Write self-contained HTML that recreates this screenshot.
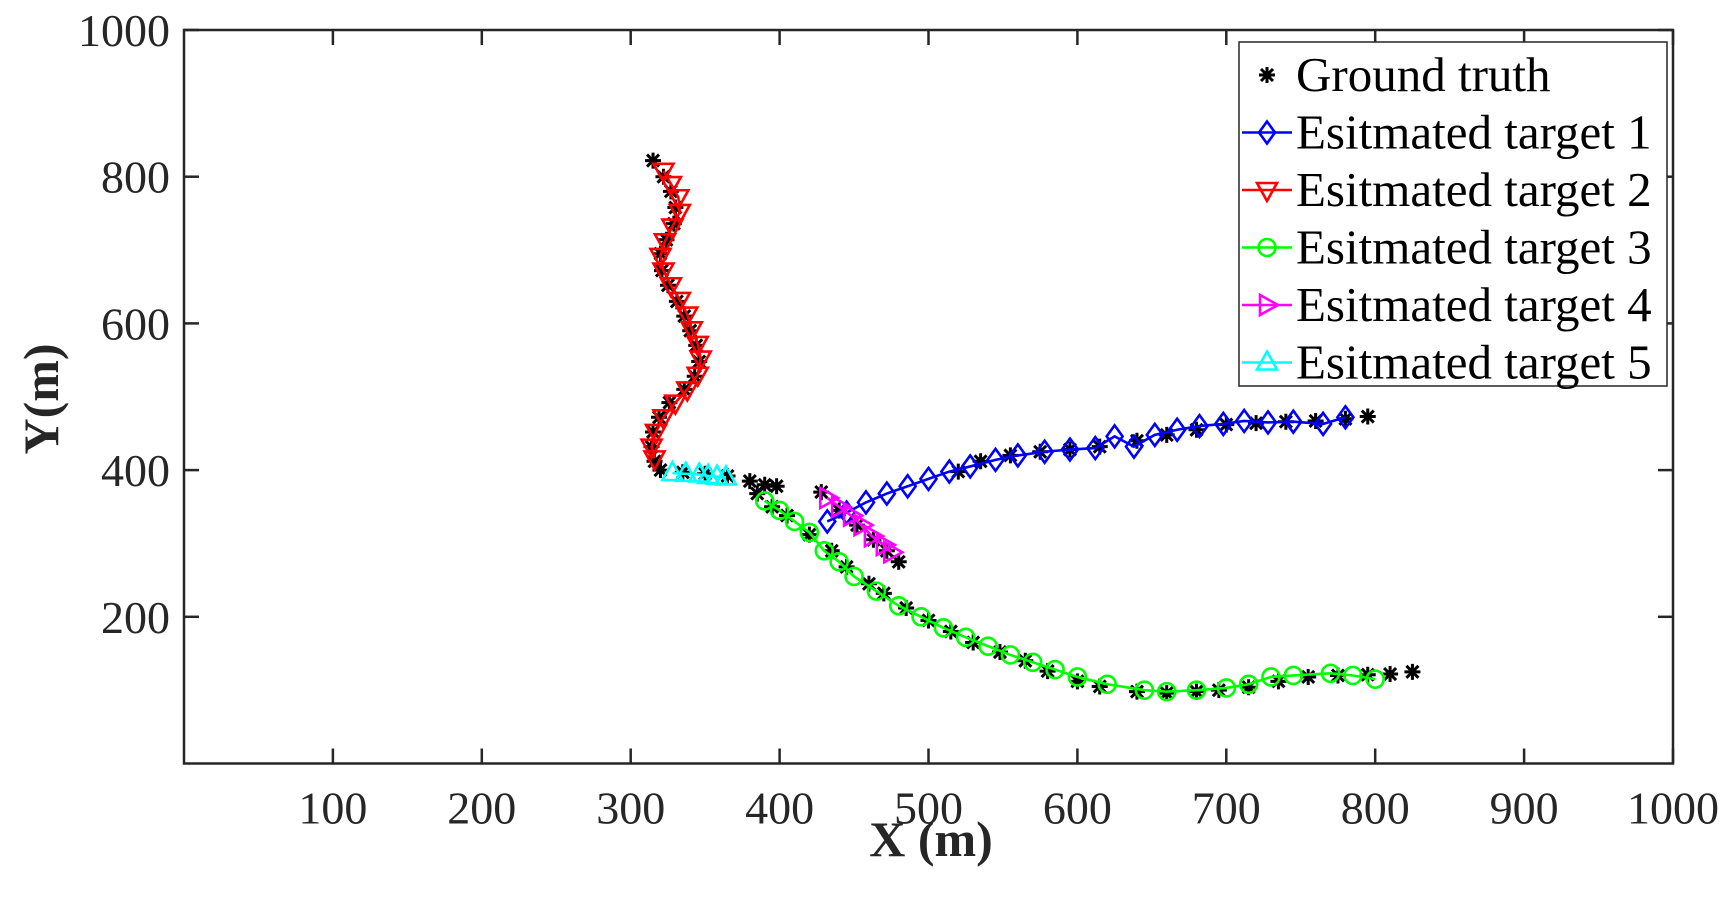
<!DOCTYPE html>
<html><head><meta charset="utf-8"><style>
html,body{margin:0;padding:0;background:#fff;}
svg{display:block;font-family:"Liberation Serif",serif;}
</style></head><body>
<svg id="chart" width="1730" height="909" viewBox="0 0 1730 909" xmlns="http://www.w3.org/2000/svg"></svg>
<script>
const xTicks=[100,200,300,400,500,600,700,800,900,1000];
const yTicks=[200,400,600,800,1000];
const gtX=[315,322,327,330,329,324,320,321,325,331,336,340,344,346,343,336,326,319,315,314,316,320,335,350,365,380,390,398,385,395,405,420,435,445,460,470,485,500,515,530,548,565,580,600,615,640,660,680,695,715,735,755,775,795,810,825,428,440,452,463,472,480,520,535,555,575,595,615,640,660,680,700,720,740,760,780,795];
const gtY=[822,800,780,758,736,714,695,672,652,630,610,590,570,548,528,510,492,472,452,432,412,400,397,395,392,385,380,378,368,350,338,312,290,268,245,232,212,195,180,165,152,140,126,112,105,98,96,98,100,104,112,118,120,121,122,125,370,345,325,305,290,275,398,412,420,425,428,432,440,448,455,462,464,466,467,470,473];
const t1X=[432,445,458,472,486,500,514,528,545,560,578,595,612,625,638,652,667,682,698,712,728,745,765,780];
const t1Y=[330,342,356,368,378,388,398,405,414,420,425,428,430,446,432,448,455,460,463,467,465,466,463,472];
const t2X=[322,327,332,333,328,323,320,322,327,333,338,341,345,347,345,338,330,322,317,314,316];
const t2Y=[808,790,772,752,732,712,692,672,652,632,612,592,572,552,530,510,492,472,452,432,416];
const t3X=[390,400,410,420,430,440,450,465,480,495,510,525,540,555,570,585,600,620,645,660,680,700,715,730,745,770,785,800];
const t3Y=[358,345,330,315,290,275,255,235,215,200,185,172,160,148,138,128,118,108,100,98,100,103,108,118,120,123,120,115];
const t4X=[432,440,448,455,462,470,475];
const t4Y=[362,350,338,325,310,298,288];
const t5X=[328,337,346,352,358,364];
const t5Y=[396,395,394,392,391,390];

const NS="http://www.w3.org/2000/svg";
const svg=document.getElementById('chart');
const L=184,R=1673,T=30,B=763.5;
const sx=v=>L+(v-0)/(1000-0)*(R-L);
const sy=v=>B-(v-0)/(1000-0)*(B-T);
function el(tag,attrs,parent){const e=document.createElementNS(NS,tag);for(const k in attrs)e.setAttribute(k,attrs[k]);(parent||svg).appendChild(e);return e;}

const box=el('rect',{x:L,y:T,width:R-L,height:B-T,fill:'none',stroke:'#262626','stroke-width':2.5});


xTicks.forEach(v=>{
  const x=sx(v);
  el('line',{x1:x,y1:B,x2:x,y2:B-15,stroke:'#262626','stroke-width':2.5});
  el('line',{x1:x,y1:T,x2:x,y2:T+15,stroke:'#262626','stroke-width':2.5});
  const t=el('text',{x:x,y:B+60,'text-anchor':'middle','font-size':46,fill:'#262626'});
  t.textContent=v;
  
  
});
yTicks.forEach(v=>{
  const y=sy(v);
  el('line',{x1:L,y1:y,x2:L+15,y2:y,stroke:'#262626','stroke-width':2.5});
  el('line',{x1:R,y1:y,x2:R-15,y2:y,stroke:'#262626','stroke-width':2.5});
  const t=el('text',{x:L-14,y:y+16,'text-anchor':'end','font-size':46,fill:'#262626'});
  t.textContent=v;
  
  
});
const xt=el('text',{x:931,y:856,'text-anchor':'middle','font-size':50,'font-weight':'bold',fill:'#262626'});
xt.textContent='X (m)';


const yt=el('text',{x:0,y:0,'text-anchor':'middle','font-size':50,'font-weight':'bold',fill:'#262626',transform:'translate(58,399) rotate(-90)'});
yt.textContent='Y(m)';



function marker(type,x,y,color,g){
  const s=8;
  if(type==='star'){
    const d=`M${x-s},${y}L${x+s},${y}M${x},${y-s}L${x},${y+s}M${x-6},${y-6}L${x+6},${y+6}M${x-6},${y+6}L${x+6},${y-6}`;
    el('path',{d:d,stroke:'#000','stroke-width':3,fill:'none'},g);
  }else if(type==='diamond'){
    el('path',{d:`M${x},${y-11}L${x+8},${y}L${x},${y+11}L${x-8},${y}Z`,stroke:color,'stroke-width':2.6,fill:'none'},g);
  }else if(type==='tdown'){
    el('path',{d:`M${x-10},${y-7}L${x+10},${y-7}L${x},${y+11}Z`,stroke:color,'stroke-width':2.6,fill:'none'},g);
  }else if(type==='tup'){
    el('path',{d:`M${x-10},${y+7}L${x+10},${y+7}L${x},${y-11}Z`,stroke:color,'stroke-width':2.6,fill:'none'},g);
  }else if(type==='tright'){
    el('path',{d:`M${x-7},${y-10}L${x-7},${y+10}L${x+11},${y}Z`,stroke:color,'stroke-width':2.6,fill:'none'},g);
  }else if(type==='circle'){
    el('circle',{cx:x,cy:y,r:8.5,stroke:color,'stroke-width':2.6,fill:'none'},g);
  }
}
function series(xs,ys,color,type,name,line){
  const g=el('g',{});
  
  
  if(line){
    el('polyline',{points:xs.map((v,i)=>sx(v)+','+sy(ys[i])).join(' '),stroke:color,'stroke-width':2.6,fill:'none'},g);
  }
  xs.forEach((v,i)=>marker(type,sx(v),sy(ys[i]),color,g));
}
series(gtX,gtY,'#000','star','ground-truth-series',false);
series(t1X,t1Y,'#0000ff','diamond','target-1-series',true);
series(t2X,t2Y,'#ff0000','tdown','target-2-series',true);
series(t3X,t3Y,'#00ff00','circle','target-3-series',true);
series(t4X,t4Y,'#ff00ff','tright','target-4-series',true);
series(t5X,t5Y,'#00ffff','tup','target-5-series',true);

const lg=el('g',{});


el('rect',{x:1239,y:42,width:428,height:344,fill:'#fff',stroke:'#262626','stroke-width':1.5},lg);
const entries=[['Ground truth','#000','star',false],['Esitmated target 1','#0000ff','diamond',true],['Esitmated target 2','#ff0000','tdown',true],['Esitmated target 3','#00ff00','circle',true],['Esitmated target 4','#ff00ff','tright',true],['Esitmated target 5','#00ffff','tup',true]];
entries.forEach((e,i)=>{
  const y=75+i*57.5;
  const g=el('g',{},lg);
  
  
  if(e[3])el('line',{x1:1242,y1:y,x2:1292,y2:y,stroke:e[1],'stroke-width':2.6},g);
  marker(e[2],1267,y,e[1],g);
  const t=el('text',{x:1296,y:y+16,'font-size':49,fill:'#000'},g);
  t.textContent=e[0];
});
</script>
</body></html>
